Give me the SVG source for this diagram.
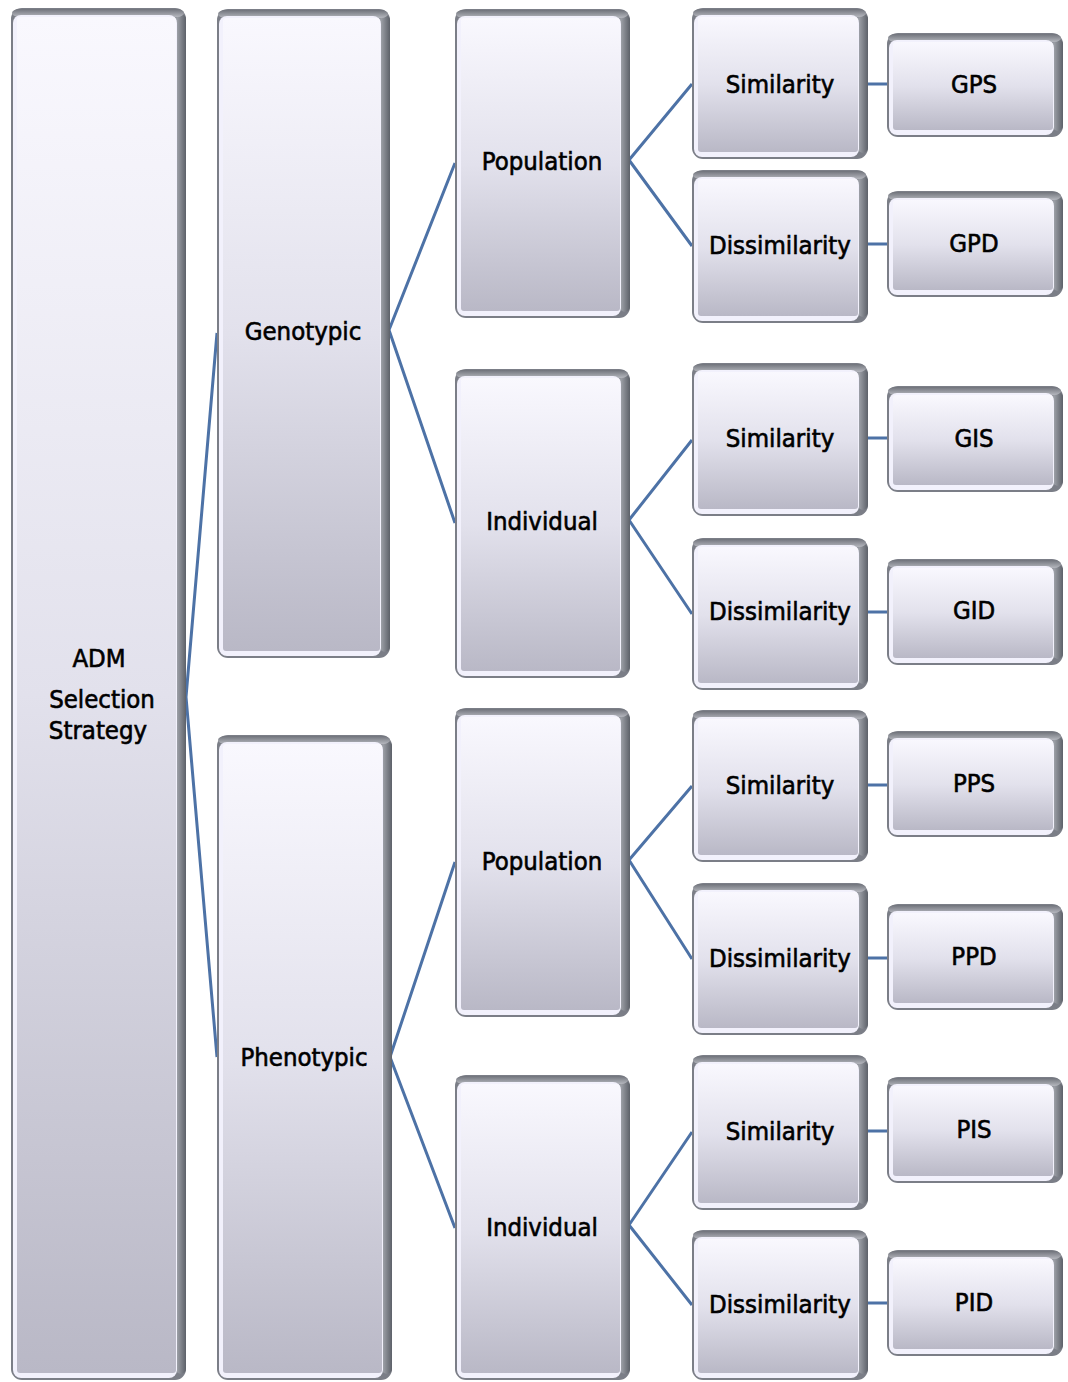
<svg xmlns="http://www.w3.org/2000/svg" width="1068" height="1382" viewBox="0 0 1068 1382">
<defs>
<linearGradient id="face" x1="0" y1="0" x2="0" y2="1">
<stop offset="0" stop-color="#f9f8fe"/>
<stop offset="0.5" stop-color="#e2e1ec"/>
<stop offset="1" stop-color="#b9b8c6"/>
</linearGradient>
<linearGradient id="topband" x1="0" y1="0" x2="0" y2="1">
<stop offset="0" stop-color="#70737b"/>
<stop offset="1" stop-color="#b5b7be"/>
</linearGradient>
<linearGradient id="rightband" x1="0" y1="0" x2="1" y2="0">
<stop offset="0" stop-color="#a4a7ae"/>
<stop offset="1" stop-color="#5d6169"/>
</linearGradient>
</defs>
<style>
.edge{fill:#7b7e87}
.rb{fill:url(#rightband)}
.tb{fill:url(#topband)}
.hl{fill:#f2f1fc}
.face{fill:url(#face)}
.lbl{font-family:"DejaVu Sans Condensed","DejaVu Sans",sans-serif;font-stretch:condensed;font-size:25.5px;fill:#000;stroke:#000;stroke-width:0.6px;text-anchor:middle}
.con{stroke:#4d72a6;stroke-width:3;fill:none}
</style>
<rect x="0" y="0" width="1068" height="1382" fill="#fff"/>
<g id="connectors">
<path class="con" d="M186 697 L217 333 M186 697 L217 1057"/>
<path class="con" d="M389 330 L455 163 M389 330 L455 523"/>
<path class="con" d="M390 1057 L455 862 M390 1057 L455 1228"/>
<path class="con" d="M629 160 L692 84 M629 160 L692 246"/>
<path class="con" d="M629 520 L692 440 M629 520 L692 614"/>
<path class="con" d="M629 860 L692 786 M629 860 L692 959"/>
<path class="con" d="M629 1225 L692 1132 M629 1225 L692 1305"/>
<path class="con" d="M866 84 L889 84 M866 244 L889 244 M866 438 L889 438 M866 612 L889 612 M866 785 L889 785 M866 958 L889 958 M866 1131 L889 1131 M866 1303 L889 1303"/>
</g>
<g id="adm">
<rect class="edge" x="11" y="8" width="175" height="1372" rx="11"/>
<rect class="rb" x="176" y="14" width="10" height="1360" rx="5"/>
<rect class="tb" x="12" y="9" width="172" height="8" rx="7"/>
<rect class="hl" x="13" y="15" width="164" height="1363" rx="8"/>
<rect class="face" x="17" y="17" width="159" height="1356" rx="3"/>
<text class="lbl" x="99" y="667">ADM</text>
<text class="lbl" x="102" y="708">Selection</text>
<text class="lbl" x="98" y="739">Strategy</text>
</g>
<g id="genotypic">
<rect class="edge" x="217" y="9" width="173" height="649" rx="11"/>
<rect class="rb" x="380" y="15" width="10" height="637" rx="5"/>
<rect class="tb" x="218" y="10" width="170" height="8" rx="7"/>
<rect class="hl" x="219" y="16" width="162" height="640" rx="8"/>
<rect class="face" x="223" y="18" width="157" height="633" rx="3"/>
<text class="lbl" x="303" y="340">Genotypic</text>
</g>
<g id="phenotypic">
<rect class="edge" x="217" y="735" width="175" height="645" rx="11"/>
<rect class="rb" x="382" y="741" width="10" height="633" rx="5"/>
<rect class="tb" x="218" y="736" width="172" height="8" rx="7"/>
<rect class="hl" x="219" y="742" width="164" height="636" rx="8"/>
<rect class="face" x="223" y="744" width="159" height="629" rx="3"/>
<text class="lbl" x="304" y="1066">Phenotypic</text>
</g>
<g id="pop-g">
<rect class="edge" x="455" y="9" width="175" height="309" rx="11"/>
<rect class="rb" x="620" y="15" width="10" height="297" rx="5"/>
<rect class="tb" x="456" y="10" width="172" height="8" rx="7"/>
<rect class="hl" x="457" y="16" width="164" height="300" rx="8"/>
<rect class="face" x="461" y="18" width="159" height="293" rx="3"/>
<text class="lbl" x="542" y="170">Population</text>
</g>
<g id="ind-g">
<rect class="edge" x="455" y="369" width="175" height="309" rx="11"/>
<rect class="rb" x="620" y="375" width="10" height="297" rx="5"/>
<rect class="tb" x="456" y="370" width="172" height="8" rx="7"/>
<rect class="hl" x="457" y="376" width="164" height="300" rx="8"/>
<rect class="face" x="461" y="378" width="159" height="293" rx="3"/>
<text class="lbl" x="542" y="530">Individual</text>
</g>
<g id="pop-p">
<rect class="edge" x="455" y="708" width="175" height="309" rx="11"/>
<rect class="rb" x="620" y="714" width="10" height="297" rx="5"/>
<rect class="tb" x="456" y="709" width="172" height="8" rx="7"/>
<rect class="hl" x="457" y="715" width="164" height="300" rx="8"/>
<rect class="face" x="461" y="717" width="159" height="293" rx="3"/>
<text class="lbl" x="542" y="870">Population</text>
</g>
<g id="ind-p">
<rect class="edge" x="455" y="1075" width="175" height="305" rx="11"/>
<rect class="rb" x="620" y="1081" width="10" height="293" rx="5"/>
<rect class="tb" x="456" y="1076" width="172" height="8" rx="7"/>
<rect class="hl" x="457" y="1082" width="164" height="296" rx="8"/>
<rect class="face" x="461" y="1084" width="159" height="289" rx="3"/>
<text class="lbl" x="542" y="1236">Individual</text>
</g>
<g id="gps-sim">
<rect class="edge" x="692" y="8" width="176" height="151" rx="11"/>
<rect class="rb" x="858" y="14" width="10" height="139" rx="5"/>
<rect class="tb" x="693" y="9" width="173" height="8" rx="7"/>
<rect class="hl" x="694" y="15" width="165" height="142" rx="8"/>
<rect class="face" x="698" y="17" width="160" height="135" rx="3"/>
<text class="lbl" x="780" y="93">Similarity</text>
</g>
<g id="gpd-dis">
<rect class="edge" x="692" y="170" width="176" height="153" rx="11"/>
<rect class="rb" x="858" y="176" width="10" height="141" rx="5"/>
<rect class="tb" x="693" y="171" width="173" height="8" rx="7"/>
<rect class="hl" x="694" y="177" width="165" height="144" rx="8"/>
<rect class="face" x="698" y="179" width="160" height="137" rx="3"/>
<text class="lbl" x="780" y="254">Dissimilarity</text>
</g>
<g id="gis-sim">
<rect class="edge" x="692" y="363" width="176" height="153" rx="11"/>
<rect class="rb" x="858" y="369" width="10" height="141" rx="5"/>
<rect class="tb" x="693" y="364" width="173" height="8" rx="7"/>
<rect class="hl" x="694" y="370" width="165" height="144" rx="8"/>
<rect class="face" x="698" y="372" width="160" height="137" rx="3"/>
<text class="lbl" x="780" y="447">Similarity</text>
</g>
<g id="gid-dis">
<rect class="edge" x="692" y="538" width="176" height="152" rx="11"/>
<rect class="rb" x="858" y="544" width="10" height="140" rx="5"/>
<rect class="tb" x="693" y="539" width="173" height="8" rx="7"/>
<rect class="hl" x="694" y="545" width="165" height="143" rx="8"/>
<rect class="face" x="698" y="547" width="160" height="136" rx="3"/>
<text class="lbl" x="780" y="620">Dissimilarity</text>
</g>
<g id="pps-sim">
<rect class="edge" x="692" y="710" width="176" height="152" rx="11"/>
<rect class="rb" x="858" y="716" width="10" height="140" rx="5"/>
<rect class="tb" x="693" y="711" width="173" height="8" rx="7"/>
<rect class="hl" x="694" y="717" width="165" height="143" rx="8"/>
<rect class="face" x="698" y="719" width="160" height="136" rx="3"/>
<text class="lbl" x="780" y="794">Similarity</text>
</g>
<g id="ppd-dis">
<rect class="edge" x="692" y="883" width="176" height="152" rx="11"/>
<rect class="rb" x="858" y="889" width="10" height="140" rx="5"/>
<rect class="tb" x="693" y="884" width="173" height="8" rx="7"/>
<rect class="hl" x="694" y="890" width="165" height="143" rx="8"/>
<rect class="face" x="698" y="892" width="160" height="136" rx="3"/>
<text class="lbl" x="780" y="967">Dissimilarity</text>
</g>
<g id="pis-sim">
<rect class="edge" x="692" y="1055" width="176" height="155" rx="11"/>
<rect class="rb" x="858" y="1061" width="10" height="143" rx="5"/>
<rect class="tb" x="693" y="1056" width="173" height="8" rx="7"/>
<rect class="hl" x="694" y="1062" width="165" height="146" rx="8"/>
<rect class="face" x="698" y="1064" width="160" height="139" rx="3"/>
<text class="lbl" x="780" y="1140">Similarity</text>
</g>
<g id="pid-dis">
<rect class="edge" x="692" y="1230" width="176" height="150" rx="11"/>
<rect class="rb" x="858" y="1236" width="10" height="138" rx="5"/>
<rect class="tb" x="693" y="1231" width="173" height="8" rx="7"/>
<rect class="hl" x="694" y="1237" width="165" height="141" rx="8"/>
<rect class="face" x="698" y="1239" width="160" height="134" rx="3"/>
<text class="lbl" x="780" y="1313">Dissimilarity</text>
</g>
<g id="gps">
<rect class="edge" x="887" y="33" width="176" height="104" rx="11"/>
<rect class="rb" x="1053" y="39" width="10" height="92" rx="5"/>
<rect class="tb" x="888" y="34" width="173" height="8" rx="7"/>
<rect class="hl" x="889" y="40" width="165" height="95" rx="8"/>
<rect class="face" x="893" y="42" width="160" height="88" rx="3"/>
<text class="lbl" x="974" y="93">GPS</text>
</g>
<g id="gpd">
<rect class="edge" x="887" y="191" width="176" height="106" rx="11"/>
<rect class="rb" x="1053" y="197" width="10" height="94" rx="5"/>
<rect class="tb" x="888" y="192" width="173" height="8" rx="7"/>
<rect class="hl" x="889" y="198" width="165" height="97" rx="8"/>
<rect class="face" x="893" y="200" width="160" height="90" rx="3"/>
<text class="lbl" x="974" y="252">GPD</text>
</g>
<g id="gis">
<rect class="edge" x="887" y="386" width="176" height="106" rx="11"/>
<rect class="rb" x="1053" y="392" width="10" height="94" rx="5"/>
<rect class="tb" x="888" y="387" width="173" height="8" rx="7"/>
<rect class="hl" x="889" y="393" width="165" height="97" rx="8"/>
<rect class="face" x="893" y="395" width="160" height="90" rx="3"/>
<text class="lbl" x="974" y="447">GIS</text>
</g>
<g id="gid">
<rect class="edge" x="887" y="559" width="176" height="106" rx="11"/>
<rect class="rb" x="1053" y="565" width="10" height="94" rx="5"/>
<rect class="tb" x="888" y="560" width="173" height="8" rx="7"/>
<rect class="hl" x="889" y="566" width="165" height="97" rx="8"/>
<rect class="face" x="893" y="568" width="160" height="90" rx="3"/>
<text class="lbl" x="974" y="619">GID</text>
</g>
<g id="pps">
<rect class="edge" x="887" y="731" width="176" height="106" rx="11"/>
<rect class="rb" x="1053" y="737" width="10" height="94" rx="5"/>
<rect class="tb" x="888" y="732" width="173" height="8" rx="7"/>
<rect class="hl" x="889" y="738" width="165" height="97" rx="8"/>
<rect class="face" x="893" y="740" width="160" height="90" rx="3"/>
<text class="lbl" x="974" y="792">PPS</text>
</g>
<g id="ppd">
<rect class="edge" x="887" y="904" width="176" height="106" rx="11"/>
<rect class="rb" x="1053" y="910" width="10" height="94" rx="5"/>
<rect class="tb" x="888" y="905" width="173" height="8" rx="7"/>
<rect class="hl" x="889" y="911" width="165" height="97" rx="8"/>
<rect class="face" x="893" y="913" width="160" height="90" rx="3"/>
<text class="lbl" x="974" y="965">PPD</text>
</g>
<g id="pis">
<rect class="edge" x="887" y="1077" width="176" height="106" rx="11"/>
<rect class="rb" x="1053" y="1083" width="10" height="94" rx="5"/>
<rect class="tb" x="888" y="1078" width="173" height="8" rx="7"/>
<rect class="hl" x="889" y="1084" width="165" height="97" rx="8"/>
<rect class="face" x="893" y="1086" width="160" height="90" rx="3"/>
<text class="lbl" x="974" y="1138">PIS</text>
</g>
<g id="pid">
<rect class="edge" x="887" y="1250" width="176" height="106" rx="11"/>
<rect class="rb" x="1053" y="1256" width="10" height="94" rx="5"/>
<rect class="tb" x="888" y="1251" width="173" height="8" rx="7"/>
<rect class="hl" x="889" y="1257" width="165" height="97" rx="8"/>
<rect class="face" x="893" y="1259" width="160" height="90" rx="3"/>
<text class="lbl" x="974" y="1311">PID</text>
</g>
</svg>
